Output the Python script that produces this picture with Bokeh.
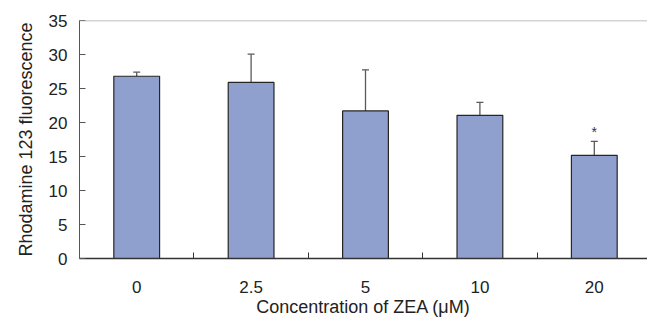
from bokeh.plotting import figure
from bokeh.models import ColumnDataSource, Range1d, FixedTicker, Whisker, TeeHead, Span
from bokeh.embed import file_html
from bokeh.resources import INLINE

categories = ["0", "2.5", "5", "10", "20"]
values = [26.8, 25.9, 21.7, 21.05, 15.17]
errors = [0.6, 4.15, 6.05, 1.9, 2.05]
marks = ["", "", "", "", "*"]

x = list(range(len(categories)))
upper = [v + e for v, e in zip(values, errors)]
src = ColumnDataSource(dict(x=x, top=values, upper=upper, mark=marks))

FONT = "Liberation Sans"
p = figure(width=647, height=320, output_backend="svg", toolbar_location=None,
           x_range=Range1d(-0.5, 4.465), y_range=Range1d(0, 35),
           min_border_left=79, min_border_right=0, min_border_top=20, min_border_bottom=62)
p.grid.visible = False
p.outline_line_color = None
p.background_fill_color = "white"

p.vbar(x="x", top="top", width=0.4, source=src, fill_color="#8f9fce",
       line_color="#262626", line_width=1.2)
w = Whisker(source=src, base="x", lower="top", upper="upper", dimension="height",
            line_color="#5a5a5a", line_width=1.3, lower_head=None,
            upper_head=TeeHead(size=7, line_color="#5a5a5a", line_width=1.3))
p.add_layout(w)
p.text(x="x", y="upper", text="mark", source=src, text_align="center",
       text_baseline="bottom", y_offset=-1, text_font_size="14px", text_color="#333333",
       text_font={"value": FONT})
p.add_layout(Span(location=35, dimension="width", line_color="#a8a8a8", line_width=1.5))

ya = p.yaxis[0]
ya.ticker = FixedTicker(ticks=[0, 5, 10, 15, 20, 25, 30, 35])
ya.major_tick_in = 6
ya.major_tick_out = 0
ya.minor_tick_line_color = None
ya.axis_line_color = "#555555"
ya.major_tick_line_color = "#555555"
ya.major_label_standoff = 12
ya.axis_label = "Rhodamine 123 fluorescence"
ya.axis_label_standoff = 10

xa = p.xaxis[0]
xa.ticker = FixedTicker(ticks=x, minor_ticks=[0.5, 1.5, 2.5, 3.5])
xa.major_label_overrides = {i: c for i, c in enumerate(categories)}
xa.major_tick_line_color = None
xa.minor_tick_in = 6
xa.minor_tick_out = 0
xa.minor_tick_line_color = "#333333"
xa.axis_line_color = "#333333"
xa.axis_line_width = 1.5
xa.major_label_standoff = 16
xa.axis_label = "Concentration of ZEA (\u03bcM)"
xa.axis_label_standoff = 1

for ax in (xa, ya):
    ax.major_label_text_font = FONT
    ax.axis_label_text_font = FONT
    ax.major_label_text_font_size = "17px"
    ax.axis_label_text_font_size = "18px"
    ax.axis_label_text_font_style = "normal"
    ax.major_label_text_color = "#222222"
    ax.axis_label_text_color = "#222222"

open("out.html", "w").write(file_html(p, INLINE))
